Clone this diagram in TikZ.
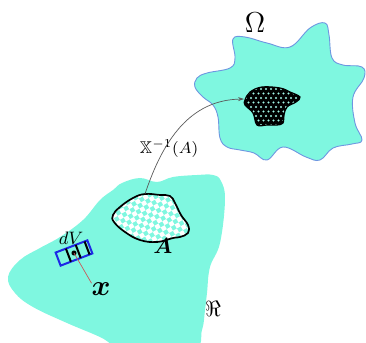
\documentclass[tikz,border=0pt]{standalone}
\usepackage{amssymb,bm}
\usetikzlibrary{arrows.meta}
\definecolor{aqua}{RGB}{127,247,224}
\definecolor{omegaline}{RGB}{110,150,225}
\definecolor{dotc}{RGB}{160,245,230}
\definecolor{volblue}{RGB}{30,40,230}
\definecolor{redline}{RGB}{200,90,90}
\definecolor{arrowgray}{RGB}{90,90,90}
\tikzset{
  lbl/.style={inner sep=0pt, outer sep=0pt},
  blob/.style={fill=aqua},
}
\begin{document}
\begin{tikzpicture}[x=0.5pt,y=-0.5pt]
\useasboundingbox (0,0) rectangle (366,343);
\clip (0,0) rectangle (366,343);

% Omega blob
\draw[blob, draw=omegaline, line width=0.45pt] plot[smooth cycle, tension=0.65] coordinates {
 (233,39) (245,37) (267,43) (290,47) (310,28) (325,23) (329,35) (332,58) (343,65)
 (362,67) (364,78) (353,97) (355,123) (362,140) (352,144) (333,148) (320,160)
 (306,157) (283,147) (267,160) (254,153) (240,150) (227,147) (220,138) (218,117)
 (213,105) (203,97) (195,87) (197,78) (207,73) (230,68) (235,58)};

% lower blob
\fill[blob] plot[smooth cycle, tension=0.65] coordinates {
 (8,277) (20,260) (40,248) (60,237) (83,220) (100,200) (113,190) (122,183)
 (140,178) (157,182) (173,177) (197,175) (213,175) (221,181) (225,200) (220,243)
 (210,267) (207,293) (205,310) (202,330) (192,350) (130,352) (100,337) (67,323)
 (33,307) (15,293)};

% region A with checker pattern
\begin{scope}
\clip plot[smooth cycle, tension=0.7] coordinates {
 (120,207) (133,198) (145,194) (160,195) (170,196) (175,203) (181,215) (188,225)
 (188,233) (180,237) (173,238) (157,242) (140,240) (125,232) (114,222) (113,215)};
\fill[aqua] (100,180) rectangle (200,250);
\begin{scope}[shift={(150,218)}, rotate=30]
\foreach \i in {-12,...,12}{\foreach \j in {-12,...,12}{
  \pgfmathtruncatemacro\k{mod(\i+\j+100,2)}
  \ifnum\k=0 \fill[white] (\i*4.5,\j*4.5) rectangle ++(4.5,4.5);\fi
}}
\end{scope}
\end{scope}
\draw[line width=0.85pt] plot[smooth cycle, tension=0.7] coordinates {
 (120,207) (133,198) (145,194) (160,195) (170,196) (175,203) (181,215) (188,225)
 (188,233) (180,237) (173,238) (157,242) (140,240) (125,232) (114,222) (113,215)};

% black region in Omega with dots
\begin{scope}
\clip plot[smooth cycle, tension=0.6] coordinates {
 (245,100) (250,92) (262,87) (280,88) (290,92) (300,97) (296,102) (287,107)
 (284,115) (283,123) (277,125) (267,125) (257,125) (253,113) (245,105)};
\fill[black] (235,80) rectangle (310,130);
\foreach \i in {0,...,14}{\foreach \j in {0,...,10}{
  \pgfmathsetmacro\xx{241+5*\i+2.5*mod(\j,2)}
  \pgfmathsetmacro\yy{89+4.5*\j}
  \fill[dotc] (\xx,\yy) circle (0.55pt);
}}
\end{scope}
\draw[line width=0.6pt] plot[smooth cycle, tension=0.6] coordinates {
 (245,100) (250,92) (262,87) (280,88) (290,92) (300,97) (296,102) (287,107)
 (284,115) (283,123) (277,125) (267,125) (257,125) (253,113) (245,105)};

% volume element
\begin{scope}[shift={(74,253)}, rotate=21]
\draw[volblue, line width=1pt] (-17,-7) rectangle (17,7);
\foreach \u in {-6,4.5,14}{
  \draw[black, line width=1pt] (\u,-7) -- (\u,7);
}
\fill[black] (0,0) circle (1.3pt);
\coordinate (dot) at (0,0);
\end{scope}

% labels
\node[lbl, anchor=base] (omega) at (255,32) {\fontsize{13.5}{15}\selectfont $\Omega$};
\node[lbl, anchor=base west] (xinv) at (140,153) {\fontsize{8.5}{10}\selectfont $\mathbb{X}^{-1}(A)$};
\node[lbl, anchor=base] (Alab) at (163,254) {\fontsize{11}{13}\selectfont $\bm{A}$};
\node[lbl, anchor=base] (dV) at (71,244) {\fontsize{9}{11}\selectfont $dV$};
\node[lbl, anchor=base] (xlab) at (101,296) {\fontsize{14}{16}\selectfont $\bm{x}$};
\node[lbl, anchor=base] (relab) at (213,317) {\fontsize{10.5}{12}\selectfont $\Re$};

% connectors
\coordinate (Atop) at (145,194);
\coordinate (Btip) at (244,99);
\draw[redline, line width=0.35pt] (dot) -- (xlab.north west);
\draw[arrowgray, line width=0.35pt, -{Stealth[length=3pt,width=2pt]}] (Atop) .. controls (163,140) and (190,100) .. (Btip);
\end{tikzpicture}
\end{document}
